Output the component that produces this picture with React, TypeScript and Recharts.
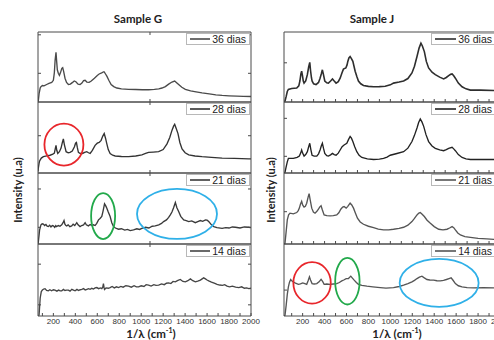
import React from 'react';
import { LineChart, Line, XAxis, YAxis, Legend, ReferenceDot } from 'recharts';

type Pt = [number, number];

// ---- Sample G spectra (wavenumber cm-1, relative intensity 0-100 within its panel) ----
const sampleG36: Pt[] = [[60,0],[63,2],[70,12],[80,20],[87,22],[100,23.5],[115,23],[139,25],[160,26.5],[185,28],[200,31],[209,42],[216,60],[224,71],[230,58],[236,46],[245,41],[255,38],[265,42],[277,48],[285,49],[293,44],[306,34],[320,28],[337,25],[355,25.5],[375,28],[390,30],[405,29],[425,25.5],[443,25],[460,27],[475,30.5],[489,31],[505,28.5],[526,28],[545,30],[574,34],[600,38],[617,40],[640,41.5],[655,43],[663,43],[675,40],[687,37],[705,31],[726,25],[750,22],[778,20],[820,18.8],[885,18],[950,17.8],[1010,17.5],[1067,17.5],[1120,18],[1160,18.8],[1189,20],[1220,22],[1250,25.5],[1280,28.5],[1305,30],[1320,28],[1341,25],[1370,21],[1402,18],[1450,16],[1500,14.5],[1554,13],[1620,11.5],[1680,10.2],[1737,9.4],[1800,8.8],[1870,8.3],[1930,8],[2000,7.8]];
const sampleG28: Pt[] = [[60,2],[63,7],[70,14],[75,17],[90,21],[109,23],[140,24],[170,25],[195,26.5],[209,28],[217,34],[224,39],[231,32],[240,27.5],[255,30],[270,35],[282,43],[291,48],[300,40],[316,30],[335,28.5],[352,29],[372,31],[392,37],[402,42],[410,43],[418,36],[428,29],[445,27.5],[465,27.5],[485,29],[504,30],[520,28.5],[535,27.5],[555,32],[580,39],[600,42],[617,43],[635,46],[650,52],[663,55.5],[675,49],[687,41],[700,33],[717,27.5],[740,25],[763,24],[820,23.2],[885,23],[950,24],[1006,25.6],[1040,27.5],[1067,29],[1110,29.5],[1159,30],[1200,33],[1235,41],[1260,50],[1280,60],[1295,66],[1305,68.6],[1318,63],[1335,55.5],[1352,43],[1372,34],[1400,28.5],[1433,25.6],[1490,24],[1554,23],[1640,22],[1737,21],[1850,20.5],[1980,20],[2000,20]];
const sampleG21: Pt[] = [[60,0],[63,3],[75,20],[87,27],[98,28.5],[109,28],[120,26],[132,27.5],[143,25],[154,24.5],[166,26.5],[178,24],[190,26],[200,25.5],[212,23.5],[222,26],[230,24.5],[245,26],[260,25],[276,27],[288,30],[297,33],[305,28],[314,26],[322,25.5],[335,27],[350,24.5],[367,25.5],[380,28],[395,26],[413,30],[425,27],[443,24.5],[458,26],[475,27],[489,30],[500,27],[519,25.5],[535,27.5],[550,26],[565,27],[580,26],[595,29],[611,34],[625,36],[641,38.7],[652,46],[666,56.6],[676,54],[687,50.5],[700,45],[717,38.7],[732,30],[748,24.5],[765,22.5],[793,20.8],[820,21.5],[850,19.5],[875,20.5],[900,18.9],[930,20],[960,21.5],[985,20.5],[1006,22],[1040,23.5],[1070,22.5],[1100,25],[1128,25.5],[1160,27],[1185,29],[1204,31.6],[1230,34],[1250,37.5],[1265,41],[1280,45],[1295,51],[1311,58.5],[1325,51],[1341,45.8],[1360,39],[1387,34],[1410,33],[1433,31.6],[1460,32.5],[1493,30],[1515,31.5],[1539,33],[1560,32],[1585,34],[1600,33.5],[1615,31.6],[1640,27],[1661,24.5],[1690,23],[1737,22],[1770,23],[1800,22.5],[1830,24],[1858,23.6],[1900,22.5],[1940,24],[1980,23.6],[2000,23]];
const sampleG14: Pt[] = [[66,0],[70,2],[80,25],[90,34],[100,36],[112,37.5],[124,38],[138,35.5],[154,35],[168,36.5],[184,35],[200,36.5],[215,36],[232,34.5],[248,36],[262,35],[276,35],[292,37],[305,35.5],[320,36],[337,36],[352,34.5],[368,37],[383,36],[398,35],[415,37],[430,35.5],[445,36.5],[459,37],[475,38],[490,36],[505,37],[520,38],[535,37],[550,38.5],[565,37.5],[580,39],[596,39.5],[612,38],[628,39],[641,38],[650,40],[656,45],[661,40],[666,37],[680,39],[700,38.5],[717,39.5],[735,41],[755,39],[775,40.5],[793,39.5],[815,41],[835,40],[860,42],[885,41.4],[910,40],[935,42],[956,40.5],[976,40.5],[1000,42],[1025,41],[1045,43.5],[1067,42.8],[1090,41.5],[1115,43.5],[1135,42.5],[1159,42.8],[1185,44.5],[1210,43.5],[1230,45.5],[1250,46],[1270,45],[1290,48],[1311,47.4],[1330,49],[1356,50.7],[1380,48],[1402,47.4],[1425,49],[1448,51.6],[1470,49],[1493,47.4],[1515,48.5],[1539,49.8],[1555,51.5],[1569,53],[1585,51.5],[1600,50],[1615,48.8],[1640,47],[1665,45.5],[1691,44],[1715,43],[1740,42.5],[1760,43.5],[1782,41.4],[1805,40.5],[1830,41.5],[1860,40],[1889,39.5],[1915,40.5],[1940,38.5],[1960,39],[1980,38],[2000,38.5]];

// ---- Sample J spectra ----
const sampleJ36: Pt[] = [[30,0],[39,1.4],[50,8],[60,15],[70,18],[100,19.3],[146,20],[165,23],[175,30],[184,40],[191,44],[198,38],[206,30],[213,27],[228,30],[243,39],[255,50],[265,56.6],[272,45],[280,35],[286,30],[300,26],[322,25],[345,28],[359,34],[370,40],[380,46],[390,39],[402,30],[420,27.5],[435,27],[455,30],[472,33],[488,30],[505,27],[525,29],[542,34],[560,42],[572,47],[594,48.6],[605,53],[612,58],[622,63],[633,65],[645,62],[658,58],[670,50],[679,44],[695,36],[709,30],[730,26],[755,23.6],[800,22.3],[847,21.7],[900,22],[953,22.6],[1000,24.5],[1029,27],[1080,28.5],[1121,30],[1160,33.5],[1197,41.5],[1220,51],[1243,65],[1262,77],[1279,84],[1292,80],[1310,72],[1328,58],[1349,48.6],[1380,42.5],[1410,39],[1450,35.5],[1486,33],[1510,35],[1532,37.7],[1550,39.5],[1563,40],[1578,37.5],[1593,34],[1620,27],[1654,21.7],[1690,18.8],[1730,17],[1822,17],[1944,16.5],[2000,16.5]];
const sampleJ28: Pt[] = [[30,0],[39,1],[50,9],[60,15.7],[70,20.5],[115,20.5],[150,22],[170,23.8],[182,28],[191,32.4],[200,28],[213,23.8],[228,26],[243,30],[255,37],[265,41.9],[275,33],[286,25],[305,23.8],[329,23.8],[345,27],[359,32.4],[370,38],[380,41.9],[390,35],[402,27.6],[420,24.5],[435,23.8],[455,25.5],[472,27.6],[488,26],[505,25],[525,28],[542,32.4],[560,37],[578,39.5],[603,41.9],[618,47],[633,51.4],[645,49],[658,44.3],[675,37],[694,30],[715,25],[740,21.9],[790,19.8],[847,19],[900,19.5],[938,20.5],[970,22.5],[999,25],[1060,27.5],[1121,30],[1160,35],[1197,44.3],[1220,53],[1243,63.3],[1258,71],[1273,76],[1288,72],[1304,65.7],[1325,54],[1349,44.3],[1380,38],[1410,34.8],[1450,32.5],[1486,31.4],[1510,33],[1532,34.8],[1563,36.2],[1578,34],[1593,31.4],[1620,26],[1654,21.9],[1690,20],[1730,19],[1850,19],[2000,19]];
const sampleJ21: Pt[] = [[30,0],[39,1],[48,15],[60,34],[72,41],[85,43.4],[115,42.5],[146,44.3],[160,47],[170,50.5],[180,56],[191,60],[200,55],[213,52],[225,53],[237,57.5],[250,66],[259,70.8],[268,63],[283,50.5],[298,45],[313,43.4],[330,46],[344,49],[355,52],[368,53.8],[380,48],[396,41],[420,40],[451,39.6],[480,40],[511,41],[530,44],[548,49],[565,52],[578,52.8],[597,50.5],[612,53],[633,57.5],[648,55],[664,50.5],[680,44],[700,36.3],[725,31],[755,27.8],[800,25],[847,23],[890,21],[938,19.8],[985,20],[1029,20.8],[1080,22],[1121,23.6],[1160,26.5],[1197,31.6],[1220,36],[1243,41],[1260,43.5],[1273,44.3],[1290,42],[1310,38.7],[1335,33.5],[1365,29.2],[1400,24.5],[1441,20.8],[1480,20],[1517,20.8],[1540,22.5],[1563,24.5],[1578,23],[1593,19.8],[1615,15.5],[1639,12.7],[1680,10.5],[1730,9.4],[1800,8],[1880,7.2],[1944,6.6],[2000,6]];
const sampleJ14: Pt[] = [[30,0],[39,1],[50,15],[60,30],[70,40.5],[80,47],[91,50.7],[103,48.5],[115,47.4],[135,45.5],[161,44],[180,44.5],[201,46],[220,45],[237,44],[250,49],[262,54.4],[272,50],[286,45],[305,44.5],[329,45],[350,47.5],[368,51],[382,48],[396,44],[420,44.5],[451,44],[480,44.5],[511,45],[535,46.5],[557,48.8],[575,50],[597,52],[618,52],[630,54],[639,55.3],[652,53],[670,49.8],[690,46.5],[709,44],[740,42.5],[786,41.4],[840,40.5],[908,39.5],[960,38.8],[1029,39.5],[1080,41],[1121,42.8],[1160,45],[1197,47.4],[1220,49.5],[1243,52],[1265,54],[1288,55.3],[1310,53],[1334,50.7],[1360,50],[1395,49.8],[1425,49],[1456,48.8],[1485,49.5],[1511,50.7],[1535,52],[1554,53],[1570,50],[1593,45],[1620,42],[1654,40.5],[1700,39.5],[1761,39],[1850,39.3],[1944,39],[2000,39]];

// ---- labels & ticks ----
const seriesNames = ['36 dias', '28 dias', '21 dias', '14 dias'];
const labelTicks = [200, 400, 600, 800, 1000, 1200, 1400, 1600, 1800, 2000];
const minorTicks = [100, 200, 300, 400, 500, 600, 700, 800, 900, 1000, 1100, 1200, 1300, 1400, 1500, 1600, 1700, 1800, 1900, 2000];
const gMidTicks = [1080];
const gYTicks = [[41, 96], [52.5], [23.5, 77.5], [15.5, 72]];
const jYTicks = [[56], [23.5, 77], [45.5], [36]];

// ---- layout (styling only) ----
const ROW_TOPS = [32, 102, 173, 244];
const ROW_HEIGHTS = [70, 71, 71, 72];

type Ell = { x: number; y: number; rx: number; ry: number; color: string };
const RED = '#e8262b';
const GREEN = '#22a94b';
const BLUE = '#2fb0e8';

interface SubProps {
  data: Pt[];
  name: string;
  color: string;
  strokeWidth: number;
  top: number;
  plotHeight: number;
  left: number;
  plotWidth: number;
  rightPad: number;
  xMin: number;
  bottomTicks: number[];
  topTicks: number[];
  yTicks: number[];
  showLabels: boolean;
  legendRight: number;
  legendLine: number;
  ellipses: Ell[];
}

const AXIS = '#4a4a4a';
const blank = () => '';

function LegendBox(props: any) {
  const { payload, lineLen } = props;
  if (!payload || !payload.length) return null;
  const item = payload[0];
  return (
    <div
      style={{
        display: 'flex',
        alignItems: 'center',
        border: '1px solid #b8b8b8',
        background: '#fff',
        height: 10,
        padding: '0 3px 0 3px',
        fontFamily: '"Liberation Sans", Arial, sans-serif',
        fontSize: 10.5,
        color: '#222',
        whiteSpace: 'nowrap',
        lineHeight: '10px',
      }}
    >
      <svg width={lineLen} height={4} style={{ display: 'block' }}>
        <line x1={0} y1={2} x2={lineLen} y2={2} stroke={item.color} strokeWidth={1.6} />
      </svg>
      <span style={{ marginLeft: 2 }}>{item.value}</span>
    </div>
  );
}

function Sub(p: SubProps) {
  const rows = p.data.map(([x, y]) => ({ x, y }));
  const labelH = p.showLabels ? 13 : 0;
  const height = p.plotHeight + 2 + labelH;
  const domain: [number, number] = [p.xMin, 2000];
  return (
    <div style={{ position: 'absolute', left: p.left - 1, top: p.top - 1 }}>
      <LineChart
        width={p.plotWidth + 2 + p.rightPad}
        height={height}
        data={rows}
        margin={{ top: 1, right: 1 + p.rightPad, bottom: 1, left: 1 }}
      >
        <XAxis
          xAxisId="b"
          dataKey="x"
          type="number"
          domain={domain}
          allowDataOverflow
          ticks={p.bottomTicks}
          interval={0}
          orientation="bottom"
          mirror
          tickSize={3}
          tickFormatter={blank}
          stroke={AXIS}
        />
        <XAxis
          xAxisId="t"
          dataKey="x"
          type="number"
          domain={domain}
          allowDataOverflow
          ticks={p.topTicks}
          interval={0}
          orientation="top"
          mirror
          tickSize={3}
          tickFormatter={blank}
          stroke={AXIS}
        />
        {p.showLabels && (
          <XAxis
            xAxisId="lab"
            dataKey="x"
            type="number"
            domain={domain}
            allowDataOverflow
            ticks={labelTicks}
            interval={0}
            orientation="bottom"
            height={labelH}
            axisLine={false}
            tickLine={false}
            tickSize={2}
            tickMargin={0}
            tick={{ fontSize: 8, fill: '#333', fontFamily: '"Liberation Sans", Arial, sans-serif' }}
          />
        )}
        <YAxis
          yAxisId="l"
          type="number"
          domain={[0, 100]}
          allowDataOverflow
          ticks={p.yTicks}
          interval={0}
          orientation="left"
          mirror
          tickSize={3}
          tickFormatter={blank}
          stroke={AXIS}
        />
        <YAxis
          yAxisId="r"
          type="number"
          domain={[0, 100]}
          allowDataOverflow
          ticks={p.yTicks}
          interval={0}
          orientation="right"
          mirror
          tickSize={3}
          tickFormatter={blank}
          stroke={AXIS}
        />
        <Legend
          layout="horizontal"
          verticalAlign="middle"
          align="center"
          wrapperStyle={{ top: 2, right: p.legendRight + p.rightPad, left: 'auto', width: 'auto', height: 'auto' }}
          content={(lp: any) => <LegendBox {...lp} lineLen={p.legendLine} />}
        />
        <Line
          xAxisId="b"
          yAxisId="l"
          type="linear"
          dataKey="y"
          name={p.name}
          stroke={p.color}
          strokeWidth={p.strokeWidth}
          dot={false}
          activeDot={false}
          isAnimationActive={false}
        />
        {p.ellipses.map((e, i) => (
          <ReferenceDot
            key={i}
            xAxisId="b"
            yAxisId="l"
            x={e.x}
            y={e.y}
            ifOverflow="visible"
            shape={(sp: any) => (
              <ellipse cx={sp.cx} cy={sp.cy} rx={e.rx} ry={e.ry} fill="none" stroke={e.color} strokeWidth={1.8} />
            )}
          />
        ))}
      </LineChart>
    </div>
  );
}

const titleFont = 'Lato, "Open Sans", sans-serif';

export default function App() {
  const gSeries = [sampleG36, sampleG28, sampleG21, sampleG14];
  const jSeries = [sampleJ36, sampleJ28, sampleJ21, sampleJ14];
  const gColors = ['#4a4a4a', '#333333', '#3a3a3a', '#454545'];
  const jColors = ['#2e2e2e', '#222222', '#555555', '#555555'];
  const gEllipses: Ell[][] = [
    [],
    [{ x: 296, y: 40, rx: 19.5, ry: 21, color: RED }],
    [
      { x: 653, y: 39.4, rx: 12, ry: 23, color: GREEN },
      { x: 1326, y: 42.3, rx: 40, ry: 25, color: BLUE },
    ],
    [],
  ];
  const jEllipses: Ell[][] = [
    [],
    [],
    [],
    [
      { x: 286, y: 46, rx: 18.7, ry: 20.7, color: RED },
      { x: 608, y: 48.3, rx: 12.2, ry: 23.3, color: GREEN },
      { x: 1445, y: 46, rx: 39.5, ry: 24, color: BLUE },
    ],
  ];

  return (
    <div
      style={{
        position: 'absolute',
        left: 0,
        top: 0,
        width: 494,
        height: 340,
        overflow: 'hidden',
        background: '#fff',
      }}
    >
      {/* Sample G */}
      {gSeries.map((d, i) => (
        <Sub
          key={'g' + i}
          data={d}
          name={seriesNames[i]}
          color={gColors[i]}
          strokeWidth={1.35}
          top={ROW_TOPS[i]}
          plotHeight={ROW_HEIGHTS[i]}
          left={38}
          plotWidth={213}
          rightPad={12}
          xMin={60}
          bottomTicks={i === 3 ? minorTicks : gMidTicks}
          topTicks={gMidTicks}
          yTicks={gYTicks[i]}
          showLabels={i === 3}
          legendRight={2}
          legendLine={20}
          ellipses={gEllipses[i]}
        />
      ))}
      {/* Sample J */}
      {jSeries.map((d, i) => (
        <Sub
          key={'j' + i}
          data={d}
          name={seriesNames[i]}
          color={jColors[i]}
          strokeWidth={i === 0 ? 1.6 : 1.35}
          top={ROW_TOPS[i]}
          plotHeight={ROW_HEIGHTS[i]}
          left={284}
          plotWidth={216}
          rightPad={0}
          xMin={30}
          bottomTicks={minorTicks}
          topTicks={[]}
          yTicks={jYTicks[i]}
          showLabels={i === 3}
          legendRight={5}
          legendLine={21}
          ellipses={jEllipses[i]}
        />
      ))}

      {/* Titles */}
      <div style={{ position: 'absolute', left: 88, width: 100, top: 12, textAlign: 'center', fontFamily: titleFont, fontWeight: 700, fontSize: 11.5, color: '#222' }}>
        Sample G
      </div>
      <div style={{ position: 'absolute', left: 322, width: 100, top: 12, textAlign: 'center', fontFamily: titleFont, fontWeight: 700, fontSize: 11.5, color: '#222' }}>
        Sample J
      </div>
      {/* Y titles */}
      <div style={{ position: 'absolute', left: 18 - 50, width: 100, top: 190 - 7, textAlign: 'center', transform: 'rotate(-90deg)', fontFamily: titleFont, fontWeight: 700, fontSize: 11, color: '#222', lineHeight: '14px' }}>
        Intensity (u.a)
      </div>
      <div style={{ position: 'absolute', left: 271 - 50, width: 100, top: 190 - 7, textAlign: 'center', transform: 'rotate(-90deg)', fontFamily: titleFont, fontWeight: 700, fontSize: 11, color: '#222', lineHeight: '14px' }}>
        Intensity (u.a)
      </div>
      {/* X titles */}
      <div style={{ position: 'absolute', left: 151 - 50, width: 100, top: 327, textAlign: 'center', fontFamily: titleFont, fontWeight: 700, fontSize: 11.5, color: '#222', lineHeight: '14px' }}>
        1/λ (cm<sup style={{ fontSize: 7, lineHeight: 0 }}>-1</sup>)
      </div>
      <div style={{ position: 'absolute', left: 397 - 50, width: 100, top: 327, textAlign: 'center', fontFamily: titleFont, fontWeight: 700, fontSize: 11.5, color: '#222', lineHeight: '14px' }}>
        1/λ (cm<sup style={{ fontSize: 7, lineHeight: 0 }}>-1</sup>)
      </div>
    </div>
  );
}
